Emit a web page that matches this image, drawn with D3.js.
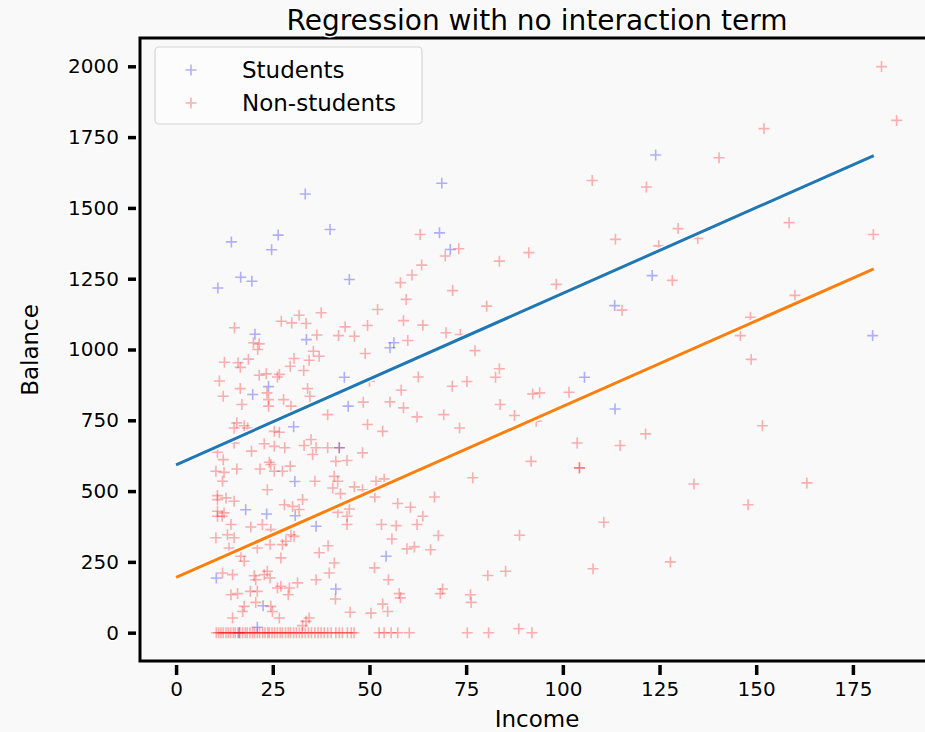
<!DOCTYPE html>
<html>
<head>
<meta charset="utf-8">
<script src="https://cdn.jsdelivr.net/npm/d3@7"></script>
<style>
  body { margin: 0; background: #f9f9f9; }
  text { font-family: "Humor Sans", "Comic Sans MS", "DejaVu Sans", sans-serif; fill: #000; }
  .halo { paint-order: stroke; stroke: #fff; stroke-width: 3px; stroke-linejoin: round; }
</style>
</head>
<body>
<script>
// DATA
var studentIncome = [33.4, 26.4, 14.3, 24.7, 16.7, 19.6, 10.8, 20.4, 33.7, 23.9, 19.8, 30.4, 30.7, 18.0, 23.4, 30.8, 36.2, 10.4, 22.5, 21.0, 16.3,
  68.7, 39.8, 68.1, 70.9, 44.8, 56.3, 55.3, 43.5, 44.5, 42.2, 54.3, 41.3, 124.0, 123.1, 113.4, 105.6, 113.5, 180.1];
var studentBalance = [1549, 1404, 1380, 1352, 1255, 1241, 1217, 1054, 1035, 869, 841, 727, 534, 434, 419, 413, 376, 193, 95, 19, 0,
  1587, 1424, 1412, 1353, 1247, 1024, 1006, 902, 800, 653, 270, 154, 1687, 1261, 1155, 902, 790, 1049];

var nonStudentIncome = [
  31.8, 37.5, 27.2, 29.9, 33.6, 15.1, 36.4, 20.0, 21.5, 21.1, 35.5, 34.4, 37.0, 30.5, 18.7, 12.5, 16.0, 16.6, 29.5, 33.0,
  21.5, 23.3, 26.7, 26.2, 11.2, 16.6, 34.0, 12.2, 23.5, 34.6, 27.8, 23.9, 17.0, 23.9, 29.7,
  15.7, 17.6, 15.0, 18.5, 25.4, 26.7, 34.9, 33.1, 36.2, 22.8, 25.4, 28.1, 19.5, 10.7, 15.0, 35.3, 12.2, 24.1, 24.5, 15.7,
  21.7, 25.4, 27.5, 29.5, 10.3, 12.4, 12.0, 35.9, 23.6, 10.7, 12.9, 10.7, 15.0, 32.7, 28.0, 30.1, 31.8, 10.7, 12.4, 10.7,
  11.9, 14.2, 19.3, 22.3, 24.5, 29.7, 30.5, 10.3, 13.3, 15.0, 28.4, 27.5, 24.3, 21.0, 13.7, 16.7, 17.6, 27.1, 37.0, 12.0,
  14.6, 20.2, 23.6, 22.8, 24.3, 20.6, 27.1, 26.2, 29.3, 29.0, 31.4, 36.2, 14.2, 15.9, 19.2, 21.0, 20.6, 17.6, 17.2, 14.6,
  24.5, 24.9, 26.7, 33.6, 34.4, 32.7,
  63.1, 73.1, 69.6, 63.5, 61.0, 58.0, 71.5, 59.5, 52.1, 58.8, 63.8, 43.7, 49.5, 42.0, 46.1, 69.8, 73.5, 59.9, 48.9, 77.3,
  80.3, 62.6, 50.0, 71.4, 75.2, 58.2, 48.4, 55.3, 58.8,
  42.2, 39.2, 62.3, 69.2, 49.5, 53.4, 73.3, 39.2, 48.2, 41.3, 44.2, 40.9, 41.8, 40.5, 42.5, 46.1, 48.2, 51.7, 53.8, 51.4,
  76.7, 66.8, 57.3, 60.6, 63.8, 62.3, 44.8, 41.8, 44.2, 44.2, 53.1, 56.9, 55.8, 67.8, 59.7, 61.6, 65.8, 39.3, 40.9, 39.6,
  51.3, 54.9, 41.2, 57.7, 58.0, 68.9, 68.3, 76.1, 76.3, 53.4, 54.7, 50.4, 45.0,
  107.6, 121.6, 129.8, 113.6, 91.2, 83.6, 98.3, 128.3, 115.3, 124.8, 83.6, 82.6, 92.2, 94.0, 101.6,
  83.8, 87.5, 93.1, 121.4, 103.7, 114.8, 91.8, 104.3, 104.3, 110.6, 88.8, 127.8, 107.8, 80.6, 85.2, 88.6,
  182.4, 186.3, 152.0, 140.4, 158.5, 180.3, 134.9, 160.0, 148.5, 145.9, 148.7, 151.6, 133.9, 163.1, 147.9,
  // zero balance
  10.4, 11.0, 11.6, 12.2, 12.9, 13.5, 14.1, 14.8, 15.3, 16.0, 16.5, 17.2, 17.9, 18.4, 19.1, 19.8, 20.3, 21.0, 21.6, 22.4,
  23.0, 23.7, 24.1, 24.8, 25.5, 26.2, 26.9, 27.5, 28.3, 29.0, 29.6, 30.4, 31.1, 31.9, 32.6, 33.4, 34.2, 35.0, 35.9, 36.7,
  37.5, 38.3, 40.1, 42.2, 45.3, 46.0, 39.2, 41.3, 43.0, 44.3, 52.5, 53.8, 55.6, 57.3, 60.3, 75.3, 80.8, 92.0
];
var nonStudentBalance = [
  1121, 1130, 1100, 1094, 1092, 1077, 1051, 1024, 1020, 1000, 994, 962, 976, 968, 966, 955, 953, 937, 941, 926,
  909, 914, 912, 903, 889, 862, 862, 835, 847, 835, 823, 823, 806, 800, 800,
  741, 731, 723, 723, 711, 708, 682, 661, 653, 667, 658, 653, 641, 637, 670, 629, 611, 602, 594, 578,
  578, 570, 570, 588, 570, 566, 535, 535, 505, 484, 476, 470, 464, 470, 452, 446, 435, 429, 423, 411,
  411, 382, 373, 382, 364, 346, 340, 335, 346, 335, 323, 311, 311, 299, 299, 270, 252, 264, 282, 211,
  205, 201, 217, 205, 193, 187, 164, 158, 158, 134, 176, 187, 134, 138, 146, 146, 107, 93, 75, 52,
  93, 75, 52, 40, 52, 25,
  1406, 1356, 1330, 1298, 1263, 1236, 1208, 1177, 1141, 1102, 1086, 1080, 1085, 1049, 1047, 1059, 1053, 1032, 986, 996,
  1153, 903, 888, 870, 887, 856, 814, 815, 794,
  653, 770, 762, 770, 735, 711, 723, 653, 635, 605, 608, 552, 535, 511, 491, 515, 505, 535, 543, 479,
  547, 479, 456, 443, 411, 382, 437, 425, 411, 382, 382, 378, 331, 343, 296, 303, 293, 307, 246, 211,
  229, 187, 119, 138, 123, 154, 138, 134, 107, 101, 75, 69, 72,
  1597, 1574, 1427, 1389, 1342, 1312, 1230, 1244, 1139, 1366, 932, 902, 843, 847, 849,
  806, 767, 747, 702, 670, 661, 605, 582, 582, 390, 344, 250, 226, 202, 217, 14,
  1999, 1809, 1780, 1677, 1448, 1406, 1392, 1191, 1114, 1049, 965, 731, 525, 529, 452,
  0, 0, 0, 0, 0, 0, 0, 0, 0, 0, 0, 0, 0, 0, 0, 0, 0, 0, 0, 0,
  0, 0, 0, 0, 0, 0, 0, 0, 0, 0, 0, 0, 0, 0, 0, 0, 0, 0, 0, 0,
  0, 0, 0, 0, 0, 0, 0, 0, 0, 0, 0, 0, 0, 0, 0, 0, 0, 0
];

// fitted lines (endpoints)
var fitIncome = [0, 180.4];
var studentFit = [593, 1685];
var nonStudentFit = [195, 1285];

var xTicks = [0, 25, 50, 75, 100, 125, 150, 175];
var yTicks = [0, 250, 500, 750, 1000, 1250, 1500, 1750, 2000];

var svgWidth = 925, svgHeight = 732;
var plotLeft = 140, plotRight = 934, plotTop = 38, plotBottom = 661;

var svg = d3.select('body').append('svg')
  .attr('width', svgWidth)
  .attr('height', svgHeight)
  .style('display', 'block');

svg.append('rect').attr('width', svgWidth).attr('height', svgHeight).attr('fill', '#f9f9f9');

var x = d3.scaleLinear().domain([-9.33, 195.97]).range([plotLeft, plotRight]);
var y = d3.scaleLinear().domain([-100, 2100]).range([plotBottom, plotTop]);

// scatter markers
function plus(g, xs, ys, color) {
  var pts = xs.map(function(d, i) { return [d, ys[i]]; });
  g.selectAll('path.m')
    .data(pts)
    .enter()
    .append('path')
    .attr('class', 'm')
    .attr('d', function(d) {
      var px = x(d[0]), py = y(d[1]);
      return 'M' + (px - 5.5) + ',' + py + 'H' + (px + 5.5) + 'M' + px + ',' + (py - 5.5) + 'V' + (py + 5.5);
    })
    .attr('stroke', color)
    .attr('stroke-width', 1.6)
    .attr('stroke-opacity', 0.3)
    .attr('fill', 'none');
}

plus(svg.append('g'), studentIncome, studentBalance, '#0000ff');
plus(svg.append('g'), nonStudentIncome, nonStudentBalance, '#ff0000');

// regression lines
var line = d3.line().x(function(d) { return x(d[0]); }).y(function(d) { return y(d[1]); });
[[studentFit, '#1f77b4'], [nonStudentFit, '#ff7f0e']].forEach(function(s) {
  var pts = fitIncome.map(function(d, i) { return [d, s[0][i]]; });
  svg.append('path').attr('d', line(pts)).attr('stroke', '#fff').attr('stroke-width', 6).attr('fill', 'none');
  svg.append('path').attr('d', line(pts)).attr('stroke', s[1]).attr('stroke-width', 3).attr('fill', 'none');
});

// spines
svg.append('path')
  .attr('d', 'M' + plotLeft + ',' + plotBottom + 'V' + plotTop + 'H' + plotRight + 'V' + plotBottom + 'Z')
  .attr('stroke', '#000').attr('stroke-width', 3).attr('fill', 'none');

// axes
var xAxis = svg.append('g')
  .attr('transform', 'translate(0,' + (plotBottom + 4) + ')')
  .call(d3.axisBottom(x).tickValues(xTicks).tickSize(10).tickPadding(7).tickFormat(d3.format('d')));
var yAxis = svg.append('g')
  .attr('transform', 'translate(' + (plotLeft - 4) + ',0)')
  .call(d3.axisLeft(y).tickValues(yTicks).tickSize(8).tickPadding(9).tickFormat(d3.format('d')));

[xAxis, yAxis].forEach(function(a) {
  a.select('.domain').remove();
  a.selectAll('.tick line').attr('stroke', '#000').attr('stroke-width', 3.5);
  a.selectAll('.tick text').attr('class', 'halo').style('font-size', '20px').attr('fill', '#000');
});

// title and labels
svg.append('text').attr('class', 'halo')
  .attr('x', 537).attr('y', 30)
  .attr('text-anchor', 'middle')
  .style('font-size', '28px')
  .text('Regression with no interaction term');

svg.append('text').attr('class', 'halo')
  .attr('x', 537).attr('y', 727)
  .attr('text-anchor', 'middle')
  .style('font-size', '23px')
  .text('Income');

svg.append('text').attr('class', 'halo')
  .attr('transform', 'translate(38,350) rotate(-90)')
  .attr('text-anchor', 'middle')
  .style('font-size', '23px')
  .text('Balance');

// legend
var legend = svg.append('g');
legend.append('rect')
  .attr('x', 155).attr('y', 47).attr('width', 267).attr('height', 77)
  .attr('rx', 4)
  .attr('fill', '#fcfcfc').attr('stroke', '#d4d4d4').attr('stroke-width', 1.2);

[['Students', '#0000ff', 70], ['Non-students', '#ff0000', 103]].forEach(function(e) {
  legend.append('path')
    .attr('d', 'M185.5,' + e[2] + 'H196.5M191,' + (e[2] - 5.5) + 'V' + (e[2] + 5.5))
    .attr('stroke', e[1]).attr('stroke-opacity', 0.3).attr('stroke-width', 1.6);
  legend.append('text').attr('class', 'halo')
    .attr('x', 242).attr('y', e[2] + 8)
    .style('font-size', '23px')
    .text(e[0]);
});
</script>
</body>
</html>
